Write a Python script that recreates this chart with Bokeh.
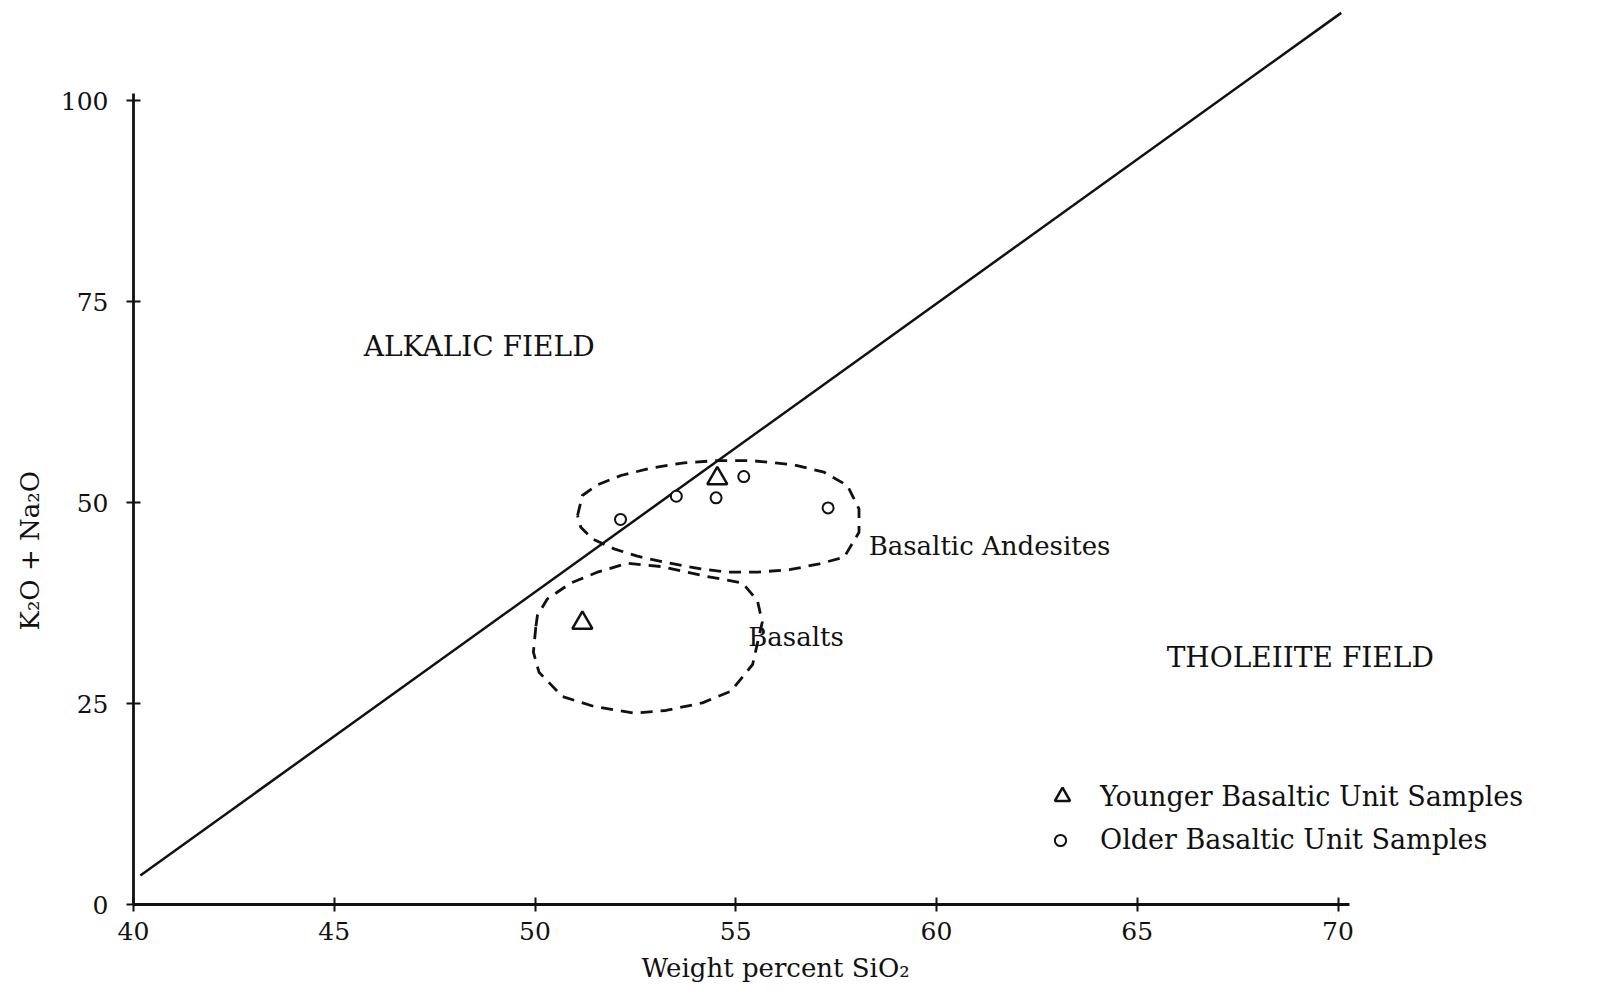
from bokeh.plotting import figure
from bokeh.models import Range1d, FixedTicker, Legend, LegendItem, Title
from bokeh.embed import file_html
from bokeh.resources import INLINE
from bokeh.core.properties import value

# ---------------- data ----------------
x_ticks = [40, 45, 50, 55, 60, 65, 70]
y_ticks = [0, 25, 50, 75, 100]

# alkalic / tholeiite dividing line
divide_x = [40.17, 70.08]
divide_y = [3.6, 110.9]

# samples
younger_x = [54.54, 51.18]
younger_y = [53.0, 35.03]
older_x = [55.20, 54.51, 53.52, 52.13, 57.30]
older_y = [53.23, 50.58, 50.78, 47.89, 49.33]

# field outlines (dashed)
andesite_x = [51.06, 51.18, 51.55, 52.14, 52.88, 53.71, 54.54, 55.37, 56.45, 57.20,
              57.78, 58.07, 58.07, 57.70, 57.08, 56.37, 55.54, 54.79, 54.13, 53.30,
              52.55, 51.97, 51.43, 51.14, 51.06]
andesite_y = [48.38, 50.87, 52.19, 53.36, 54.27, 54.93, 55.22, 55.22, 54.68, 53.77,
              52.11, 49.21, 46.30, 43.19, 42.37, 41.67, 41.33, 41.33, 41.75, 42.50,
              43.32, 44.23, 45.48, 46.93, 48.38]
basalt_x = [50.02, 49.96, 50.10, 50.68, 51.47, 52.47, 53.26, 54.17, 54.88, 55.42,
            55.66, 55.54, 55.17, 54.29, 53.13, 52.30, 51.55, 50.89, 50.31, 50.06, 50.02]
basalt_y = [34.49, 31.38, 28.89, 25.87, 24.63, 23.80, 24.13, 25.08, 26.53, 29.85,
            35.11, 37.81, 39.97, 40.80, 42.04, 42.45, 41.33, 39.97, 38.02, 35.95, 34.49]

# labels
field_names = ["ALKALIC FIELD", "THOLEIITE FIELD"]
field_x = [48.61, 69.06]
field_y = [69.40, 30.72]
rock_names = ["Basaltic Andesites", "Basalts"]
rock_x = [61.32, 56.50]
rock_y = [44.53, 33.21]

x_label = "Weight percent SiO\u2082"
y_label = "K\u2082O + Na\u2082O"
legend_labels = ["Younger Basaltic Unit Samples", "Older Basaltic Unit Samples"]

# ---------------- figure ----------------
INK = "#111111"
FONT = "DejaVu Serif"

p = figure(width=1604, height=1000,
           x_range=Range1d(40, 40 + 1471 / 40.15),
           y_range=Range1d(0, 894 / 8.04),
           output_backend="svg", toolbar_location=None,
           min_border_left=133, min_border_right=0,
           min_border_top=10, min_border_bottom=96)
p.grid.visible = False
p.outline_line_color = None
p.background_fill_color = "white"
p.border_fill_color = "white"

for ax, ticks, bounds in ((p.xaxis, x_ticks, (40, 70.28)), (p.yaxis, y_ticks, (0, 100.9))):
    ax.ticker = FixedTicker(ticks=ticks)
    ax.bounds = bounds
    ax.axis_line_width = 2.8
    ax.axis_line_color = INK
    ax.major_tick_line_width = 2
    ax.major_tick_line_color = INK
    ax.major_tick_in = 7
    ax.major_tick_out = 7
    ax.minor_tick_line_color = None
    ax.major_label_text_font = FONT
    ax.major_label_text_font_size = "25px"
    ax.major_label_text_color = INK

p.xaxis.major_label_standoff = 10
p.yaxis.major_label_standoff = 18

# axis titles as side-panel titles, shifted to where the reference has them
p.add_layout(Title(text=x_label, align="left", offset=508, standoff=17,
                   text_font=FONT, text_font_size="26px", text_font_style="normal",
                   text_color=INK), "below")
p.add_layout(Title(text=y_label, align="left", offset=274, standoff=25,
                   text_font=FONT, text_font_size="26px", text_font_style="normal",
                   text_color=INK), "left")

# dividing line
p.line(divide_x, divide_y, line_color=INK, line_width=2.5)

# dashed field outlines
p.line(andesite_x, andesite_y, line_color=INK, line_width=2.8, line_dash="12 8",
       line_join="round")
p.line(basalt_x, basalt_y, line_color=INK, line_width=2.8, line_dash="12 8",
       line_join="round")

# samples
r_young = p.scatter(younger_x, younger_y, marker="triangle", size=20,
                    fill_color="white", line_color=INK, line_width=2.5)
r_old = p.scatter(older_x, older_y, marker="circle", size=11,
                  fill_color="white", line_color=INK, line_width=2)

# texts
p.text(field_x, field_y, text=field_names, text_align="center", text_baseline="middle",
       text_font=value(FONT), text_font_size="28px", text_color=INK)
p.text(rock_x, rock_y, text=rock_names, text_align="center", text_baseline="middle",
       text_font=value(FONT), text_font_size="26px", text_color=INK)

# legends (one per entry so each marker keeps its size)
leg1 = Legend(items=[LegendItem(label=legend_labels[0], renderers=[r_young])],
              location=(910, 89), glyph_width=38, glyph_height=38, label_height=38,
              label_standoff=19, padding=0, margin=0, spacing=0,
              border_line_color=None, background_fill_alpha=0,
              label_text_font=FONT, label_text_font_size="27px", label_text_color=INK)
leg2 = Legend(items=[LegendItem(label=legend_labels[1], renderers=[r_old])],
              location=(913, 49), glyph_width=28, glyph_height=28, label_height=28,
              label_standoff=26, padding=0, margin=0, spacing=0,
              border_line_color=None, background_fill_alpha=0,
              label_text_font=FONT, label_text_font_size="27px", label_text_color=INK)
p.add_layout(leg1)
p.add_layout(leg2)

open("out.html", "w").write(file_html(p, INLINE))
